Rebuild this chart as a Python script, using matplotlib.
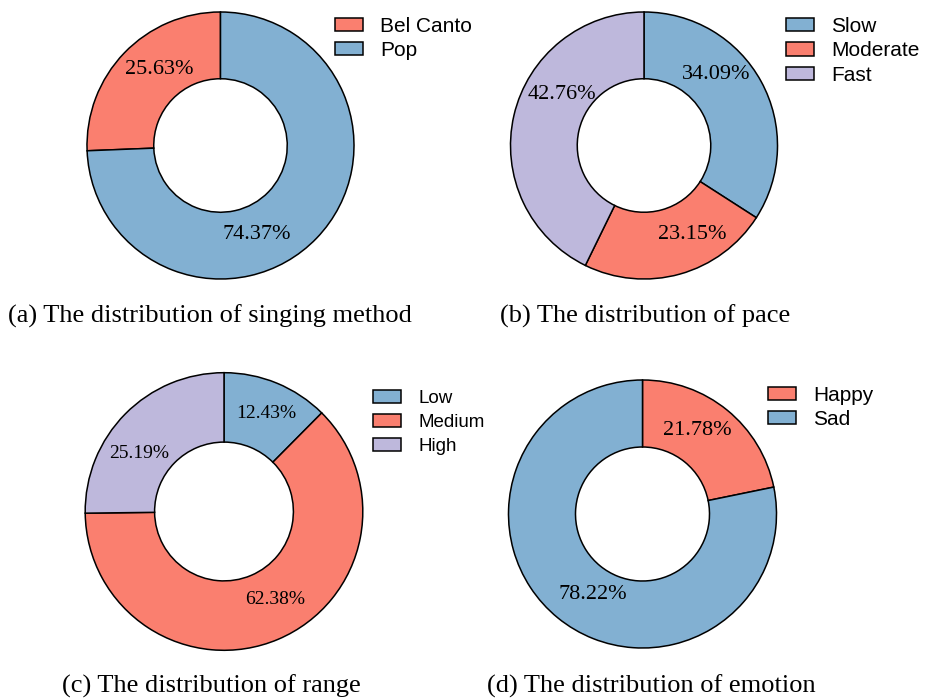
import numpy as np
import matplotlib
matplotlib.use('Agg')
import matplotlib.pyplot as plt

W, H = 927, 698
fig = plt.figure(figsize=(W / 100, H / 100), dpi=100)

RED = '#FA7F6F'
BLUE = '#82B0D2'
PURPLE = '#BEB8DC'

# ---- data ----
singing_labels = ['Bel Canto', 'Pop']
singing_values = [25.63, 74.37]
pace_labels = ['Slow', 'Moderate', 'Fast']
pace_values = [34.09, 23.15, 42.76]
range_labels = ['Low', 'Medium', 'High']
range_values = [12.43, 62.38, 25.19]
emotion_labels = ['Happy', 'Sad']
emotion_values = [21.78, 78.22]
captions = ['(a) The distribution of singing method',
            '(b) The distribution of pace',
            '(c) The distribution of range',
            '(d) The distribution of emotion']

# ---- layout / style (pixels) ----
panels = [
    dict(labels=singing_labels, values=singing_values, colors=[RED, BLUE],
         center=(220.5, 145.5), R=133.5, counterclock=True,
         lbl_ang=[129, -68], lbl_rad=[0.73, 0.72], pct_size=16,
         leg_xy=(335, 17), leg_size=15, leg_sp=0.24, cap_xy=(8, 316)),
    dict(labels=pace_labels, values=pace_values, colors=[BLUE, RED, PURPLE],
         center=(644, 145.5), R=133.5, counterclock=False,
         lbl_ang=[44.4, -61.8, 147.9], lbl_rad=[0.755, 0.76, 0.725], pct_size=16,
         leg_xy=(786, 17), leg_size=15, leg_sp=0.26, cap_xy=(500, 316)),
    dict(labels=range_labels, values=range_values, colors=[BLUE, RED, PURPLE],
         center=(224, 511.5), R=138.8, counterclock=False,
         lbl_ang=[66.7, -59.8, 145.5], lbl_rad=[0.765, 0.73, 0.74], pct_size=14,
         leg_xy=(373, 389.5), leg_size=13.5, leg_sp=0.38, cap_xy=(62, 686)),
    dict(labels=emotion_labels, values=emotion_values, colors=[RED, BLUE],
         center=(642.5, 514), R=134, counterclock=False,
         lbl_ang=[57, -122], lbl_rad=[0.745, 0.705], pct_size=16,
         leg_xy=(768, 386), leg_size=15, leg_sp=0.24, cap_xy=(487, 686)),
]

PAD = 1.02
for i, p in enumerate(panels):
    cx, cy = p['center']
    R = p['R'] * PAD
    ax = fig.add_axes([(cx - R) / W, 1 - (cy + R) / H, 2 * R / W, 2 * R / H])
    wedges, _ = ax.pie(p['values'], colors=p['colors'], startangle=90,
                       counterclock=p['counterclock'], radius=1,
                       wedgeprops=dict(width=0.5, edgecolor='black', linewidth=1.1))
    ax.set_xlim(-PAD, PAD)
    ax.set_ylim(-PAD, PAD)
    ax.axis('off')
    for v, a, r in zip(p['values'], p['lbl_ang'], p['lbl_rad']):
        t = np.deg2rad(a)
        ax.text(r * np.cos(t), r * np.sin(t), f'{v:.2f}%', ha='center', va='center',
                fontsize=p['pct_size'], family='Liberation Serif')
    fs = p['leg_size']
    fspx = fs * 100 / 72
    lx, ly = p['leg_xy']
    fig.legend(wedges, p['labels'], loc='upper left',
               bbox_to_anchor=(lx / W, 1 - ly / H), frameon=False,
               borderpad=0, borderaxespad=0,
               handlelength=28 / fspx, handleheight=13 / fspx,
               handletextpad=17 / fspx, labelspacing=p['leg_sp'],
               prop={'family': 'Liberation Sans', 'size': fs})
    capx, capy = p['cap_xy']
    fig.text(capx / W, 1 - capy / H, captions[i], ha='left', va='center',
             fontsize=19, family='Liberation Serif')

fig.savefig('out.png', dpi=100)
